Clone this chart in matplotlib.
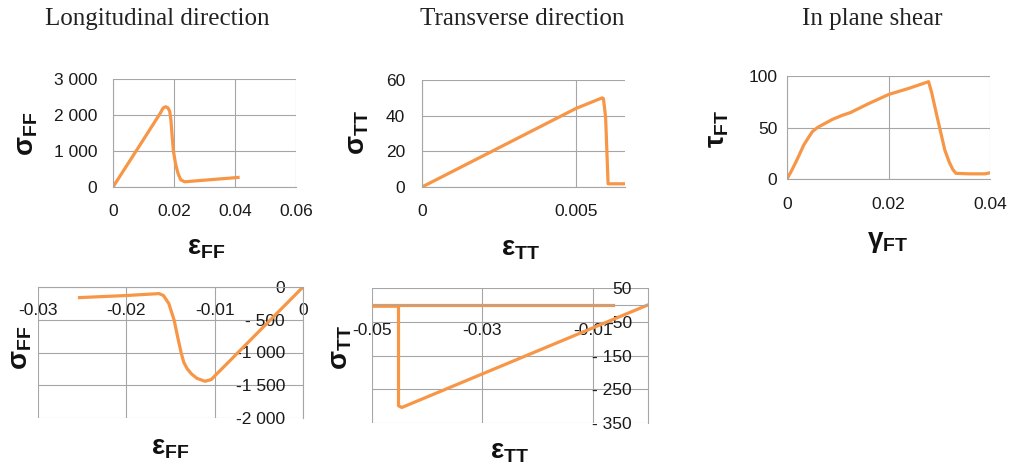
import matplotlib
matplotlib.use("Agg")
import matplotlib.pyplot as plt

plt.rcParams['font.family'] = ['Liberation Sans', 'DejaVu Sans']
plt.rcParams['mathtext.fontset'] = 'custom'
plt.rcParams['mathtext.bf'] = 'Liberation Sans:bold'
plt.rcParams['mathtext.rm'] = 'Liberation Sans'

# ---- data ----
# longitudinal, tension
ff_t_strain = [0, 0.005, 0.010, 0.0155, 0.0164, 0.0172, 0.0180, 0.0186, 0.0190, 0.0194,
               0.0198, 0.0205, 0.0213, 0.0222, 0.0235, 0.0300, 0.0410]
ff_t_stress = [0, 660, 1320, 2050, 2190, 2230, 2200, 2100, 1850, 1400,
               1000, 650, 380, 200, 145, 190, 265]
# transverse, tension
tt_t_strain = [0, 0.001, 0.002, 0.003, 0.004, 0.005, 0.0055, 0.00586, 0.0059, 0.00597,
               0.00605, 0.0066]
tt_t_stress = [0, 8.8, 17.6, 26.4, 35.2, 44.0, 47.5, 50.0, 49.5, 39, 1.8, 1.8]
# in plane shear
ft_gamma = [0, 0.001, 0.002, 0.0033, 0.0042, 0.005, 0.006, 0.0075, 0.009, 0.011, 0.0125,
            0.016, 0.020, 0.024, 0.027, 0.0279, 0.0285, 0.0295, 0.0311, 0.0320, 0.0327,
            0.0333, 0.036, 0.039, 0.040]
ft_tau = [0, 9, 19, 33, 40, 46, 50, 54, 58, 62, 64.5,
          73, 82, 88, 93, 94.5, 84, 62, 28, 16, 9,
          5.5, 5, 5, 6]
# longitudinal, compression
ff_c_strain = [-0.0253, -0.020, -0.0163, -0.0158, -0.0152, -0.0146, -0.0142, -0.0138,
               -0.0135, -0.0131, -0.0126, -0.0120, -0.0111, -0.0104, -0.005, 0]
ff_c_stress = [-162, -130, -101, -130, -250, -500, -757, -1000,
               -1150, -1250, -1330, -1395, -1439, -1414, -680, 0]
# transverse, compression (two branches)
tt_c_strain = [0, -0.0446, -0.0452, -0.0452, -0.050]
tt_c_stress = [0, -304, -299, -4, -4]
tt_c2_strain = [-0.050, -0.0063]
tt_c2_stress = [0, 0]

p1_xticks = [0, 0.02, 0.04, 0.06]
p1_yticks = [0, 1000, 2000, 3000]
p1_ylabels = ["0", "1 000", "2 000", "3 000"]
p2_xticks = [0, 0.005]
p2_yticks = [0, 20, 40, 60]
p3_xticks = [0, 0.02, 0.04]
p3_yticks = [0, 50, 100]
p4_xticks = [-0.03, -0.02, -0.01, 0]
p4_yticks = [-2000, -1500, -1000, -500, 0]
p4_ylabels = ["-2 000", "-1 500", "-1 000", "- 500", "0"]
p5_xticks = [-0.05, -0.03, -0.01]
p5_yticks = [-350, -250, -150, -50, 50]
p5_ylabels = ["- 350", "- 250", "- 150", "-50", "50"]

ORANGE = '#F79646'
GRID = '#A6A6A6'
W, H = 1010, 466

fig = plt.figure(figsize=(W / 100, H / 100), dpi=100)


def px_axes(x0, y0, x1, y1):
    return fig.add_axes([x0 / W, (H - y1) / H, (x1 - x0) / W, (y1 - y0) / H])


def px_text(x, y, s, **kw):
    fig.text(x / W, (H - y) / H, s, ha='center', va='center', **kw)


def style(ax, xlim, ylim, xticks, yticks, xpad, ypad, xlabels=None, ylabels=None):
    ax.set_xlim(*xlim)
    ax.set_ylim(*ylim)
    ax.set_xticks(xticks)
    ax.set_yticks(yticks)
    ax.set_xticklabels(xlabels if xlabels else [f"{v:g}" for v in xticks])
    ax.set_yticklabels(ylabels if ylabels else [f"{v:g}" for v in yticks])
    for s in ['top', 'right']:
        ax.spines[s].set_visible(False)
    ax.spines['left'].set_position(('data', 0))
    ax.spines['bottom'].set_position(('data', 0))
    for s in ['left', 'bottom']:
        ax.spines[s].set_color(GRID)
        ax.spines[s].set_linewidth(0.8)
    ax.grid(True, color=GRID, linewidth=0.8)
    ax.set_axisbelow(True)
    ax.tick_params(axis='x', length=0, pad=xpad, labelsize=12.5, colors='#1a1a1a')
    ax.tick_params(axis='y', length=0, pad=ypad, labelsize=12.5, colors='#1a1a1a')
    ax.patch.set_alpha(0)


lw = 2.3

ax1 = px_axes(113, 79, 296, 187)
ax1.plot(ff_t_strain, ff_t_stress, color=ORANGE, lw=lw)
style(ax1, (0, 0.06), (0, 3000), p1_xticks, p1_yticks, 12, 11.5, ylabels=p1_ylabels)

ax2 = px_axes(422, 80, 625, 187)
ax2.plot(tt_t_strain, tt_t_stress, color=ORANGE, lw=lw)
style(ax2, (0, 0.0066), (0, 60), p2_xticks, p2_yticks, 12, 12)

ax3 = px_axes(787, 76, 990, 179)
ax3.plot(ft_gamma, ft_tau, color=ORANGE, lw=lw)
style(ax3, (0, 0.04), (0, 100), p3_xticks, p3_yticks, 13, 7)

ax4 = px_axes(38, 287, 303, 418)
ax4.plot(ff_c_strain, ff_c_stress, color=ORANGE, lw=lw)
style(ax4, (-0.03, 0), (-2000, 0), p4_xticks, p4_yticks, 11.5, 13, ylabels=p4_ylabels)

ax5 = px_axes(372, 288, 648, 423)
ax5.plot(tt_c_strain, tt_c_stress, color=ORANGE, lw=lw)
ax5.plot(tt_c2_strain, tt_c2_stress, color=ORANGE, lw=lw)
style(ax5, (-0.05, 0), (-350, 50), p5_xticks, p5_yticks, 13, 11.5, ylabels=p5_ylabels)

# titles
title_kw = dict(family=['Liberation Serif', 'DejaVu Serif'], fontsize=18, color='#222222')
px_text(157, 19, "Longitudinal direction", **title_kw)
px_text(522, 19, "Transverse direction", **title_kw)
px_text(872, 19, "In plane shear", **title_kw)

# axis labels
lab_kw = dict(fontsize=20, color='#111111')
px_text(27, 134, r'$\mathbf{σ}_{\mathbf{FF}}$', rotation=90, **lab_kw)
px_text(206, 248, r'$\mathbf{ε}_{\mathbf{FF}}$', **lab_kw)
px_text(358, 133, r'$\mathbf{σ}_{\mathbf{TT}}$', rotation=90, **lab_kw)
px_text(521, 249, r'$\mathbf{ε}_{\mathbf{TT}}$', **lab_kw)
px_text(718, 129, r'$\mathbf{τ}_{\mathbf{FT}}$', rotation=90, **lab_kw)
px_text(888, 242, r'$\mathbf{γ}_{\mathbf{FT}}$', **lab_kw)
px_text(21, 348, r'$\mathbf{σ}_{\mathbf{FF}}$', rotation=90, **lab_kw)
px_text(170, 448, r'$\mathbf{ε}_{\mathbf{FF}}$', **lab_kw)
px_text(341, 348, r'$\mathbf{σ}_{\mathbf{TT}}$', rotation=90, **lab_kw)
px_text(510, 452, r'$\mathbf{ε}_{\mathbf{TT}}$', **lab_kw)

fig.savefig("out.png", dpi=100)
